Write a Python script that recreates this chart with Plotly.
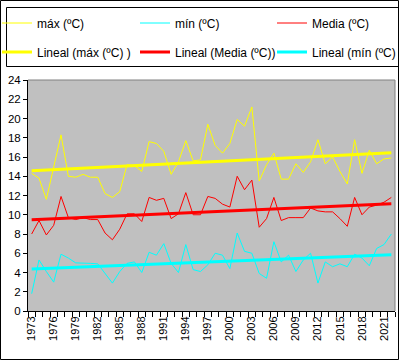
import numpy as np
import plotly.graph_objects as go

years = list(range(1973, 2023))

tmax = [14.3, 13.8, 11.6, 15.0, 18.3, 14.0, 13.9, 14.2, 13.9, 13.9, 12.2, 11.8, 12.4,
        15.2, 15.1, 14.5, 17.6, 17.4, 16.6, 14.2, 15.5, 17.7, 15.6, 15.7, 19.4,
        17.2, 16.4, 17.4, 19.9, 19.2, 21.2, 13.5, 15.2, 16.4, 13.7, 13.7, 15.3,
        14.4, 15.5, 17.8, 15.3, 16.0, 14.5, 13.2, 17.8, 14.3, 16.7, 15.3, 15.8, 15.9]

tmin = [1.8, 5.3, 4.1, 3.0, 5.9, 5.5, 5.0, 5.0, 4.95, 4.9, 3.9, 2.9, 4.1,
        4.95, 5.1, 4.0, 6.1, 5.8, 7.0, 4.95, 4.0, 6.9, 4.3, 4.1, 4.8,
        6.0, 5.8, 4.4, 8.1, 6.2, 6.0, 3.9, 3.4, 7.2, 5.1, 5.8, 4.1,
        5.3, 6.0, 2.9, 5.1, 4.6, 4.9, 4.6, 5.9, 5.5, 4.7, 6.5, 6.9, 8.0]

tmed = [8.0, 9.4, 7.9, 8.9, 11.9, 9.7, 9.5, 9.7, 9.5, 9.5, 8.1, 7.4, 8.5,
        10.1, 10.1, 9.3, 11.8, 11.5, 11.7, 9.6, 10.1, 12.3, 10.0, 10.0, 11.9,
        11.7, 11.1, 10.8, 14.0, 12.6, 13.6, 8.7, 9.6, 11.8, 9.4, 9.7, 9.7,
        9.7, 10.7, 10.4, 10.3, 10.3, 9.6, 8.8, 11.8, 10.0, 10.8, 11.0, 11.3, 11.8]

names = ["máx (ºC)", "mín (ºC)", "Media (ºC)"]
trend_names = ["Lineal (máx (ºC) )", "Lineal (Media (ºC))", "Lineal (mín (ºC)"]
tick_years = list(range(1973, 2023, 3))

YEL, CYA, RED = "#FFFF00", "#00FFFF", "#FF0000"


def trend(vals):
    x = np.array(years, dtype=float)
    a, b = np.polyfit(x, np.array(vals, dtype=float), 1)
    return list(a * x + b)


W, H = 399, 360
L, R, T, B = 28, 4, 80, 49
PW, PH = W - L - R, H - T - B


def px(xp):
    return (xp - L) / PW


def py(yp):
    return (H - B - yp) / PH


font = "Liberation Sans, Arial, sans-serif"

fig = go.Figure()
fig.add_trace(go.Scatter(x=years, y=tmax, name=names[0], mode="lines",
                         line=dict(color=YEL, width=1), legend="legend"))
fig.add_trace(go.Scatter(x=years, y=tmin, name=names[1], mode="lines",
                         line=dict(color=CYA, width=1), legend="legend2"))
fig.add_trace(go.Scatter(x=years, y=tmed, name=names[2], mode="lines",
                         line=dict(color=RED, width=1), legend="legend3"))
fig.add_trace(go.Scatter(x=years, y=trend(tmax), name=trend_names[0], mode="lines",
                         line=dict(color=YEL, width=3), legend="legend4"))
fig.add_trace(go.Scatter(x=years, y=trend(tmed), name=trend_names[1], mode="lines",
                         line=dict(color=RED, width=3), legend="legend5"))
fig.add_trace(go.Scatter(x=years, y=trend(tmin), name=trend_names[2], mode="lines",
                         line=dict(color=CYA, width=3), legend="legend6"))

leg_common = dict(orientation="h", xanchor="left", yanchor="middle",
                  bgcolor="rgba(0,0,0,0)", borderwidth=0,
                  font=dict(family=font, size=12, color="black"),
                  itemclick=False, itemdoubleclick=False)

col_x = [-3, 135, 272]
row_y = [23, 52]
legends = {}
k = 0
for r in row_y:
    for c in col_x:
        key = "legend" if k == 0 else f"legend{k + 1}"
        legends[key] = dict(x=px(c), y=py(r), **leg_common)
        k += 1

fig.update_layout(
    width=W, height=H,
    margin=dict(l=L, r=R, t=T, b=B, pad=0, autoexpand=False),
    paper_bgcolor="white",
    plot_bgcolor="#C0C0C0",
    font=dict(family=font, size=12, color="black"),
    showlegend=True,
    xaxis=dict(range=[1972.5, 2022.5], tickvals=tick_years,
               ticktext=[str(y) for y in tick_years], tickangle=-90,
               ticks="", showgrid=False, zeroline=False, automargin=False,
               showline=True, linecolor="black", linewidth=1,
               tickfont=dict(family=font, size=11, color="black"),
               minor=dict(tick0=1972.5, dtick=1, ticks="outside", ticklen=5,
                          tickcolor="black", showgrid=False)),
    yaxis=dict(range=[0, 24], dtick=2, tick0=0, ticks="outside", ticklen=4,
               tickcolor="black", showgrid=False, zeroline=False, automargin=False,
               showline=True, linecolor="black", linewidth=1,
               tickfont=dict(family=font, size=11.5, color="black")),
    shapes=[
        dict(type="line", xref="paper", yref="paper", x0=0, x1=1, y0=1, y1=1,
             line=dict(color="#808080", width=1)),
        dict(type="line", xref="paper", yref="paper", x0=1, x1=1, y0=0, y1=1,
             line=dict(color="#808080", width=1)),
        dict(type="rect", xref="paper", yref="paper",
             x0=px(6.5), x1=px(405), y0=py(7.5), y1=py(66.5),
             line=dict(color="black", width=1)),
        dict(type="rect", xref="paper", yref="paper",
             x0=px(0.5), x1=px(398.5), y0=py(0.5), y1=py(359.5),
             line=dict(color="black", width=1)),
    ],
    **legends,
)

fig.write_html("out.html", config={"displayModeBar": False},
               post_script="document.body.style.margin='0';")
